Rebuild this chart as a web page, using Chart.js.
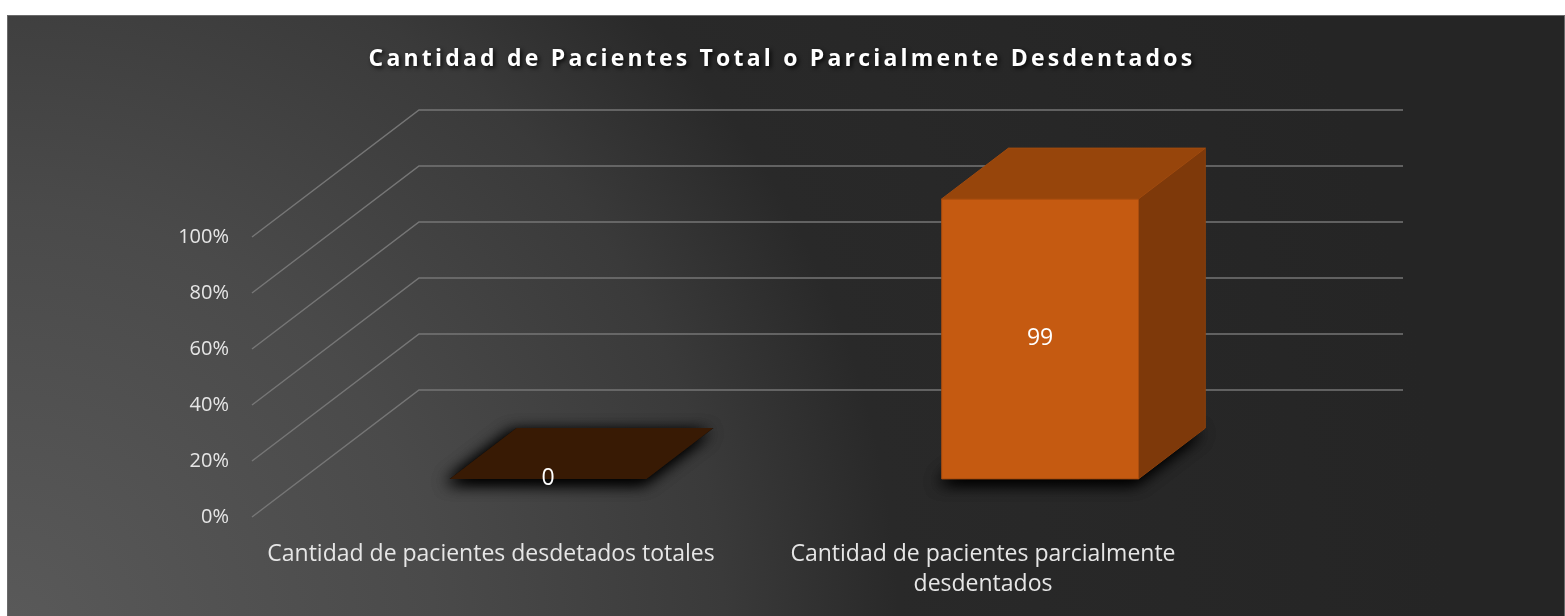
<!DOCTYPE html>
<html>
<head>
<meta charset="utf-8">
<script src="https://cdn.jsdelivr.net/npm/chart.js@4.4.0/dist/chart.umd.min.js"></script>
<style>
  html, body { margin: 0; padding: 0; background: #fff; }
  #wrap { width: 1565px; height: 616px; }
</style>
</head>
<body>
<div id="wrap"><canvas id="chart" width="1565" height="616"></canvas></div>
<script>
// data
const categorias = [
    ['Cantidad de pacientes desdetados totales'],
    ['Cantidad de pacientes parcialmente', 'desdentados']
];
const pacientes = [0, 99];        // value labels
const porcentaje = [0, 100];      // bar height on the 100% axis
const ticksY = [0, 20, 40, 60, 80, 100];
const titulo = 'Cantidad de Pacientes Total o Parcialmente Desdentados';

// 3D look: depth vector of the side wall, bars sit between 30% and 70% of depth
const DX = 167, DY = -127;
const D0 = 0.3, D1 = 0.7;

function poly(ctx, pts) {
    ctx.beginPath();
    ctx.moveTo(pts[0][0], pts[0][1]);
    for (let k = 1; k < pts.length; k++) ctx.lineTo(pts[k][0], pts[k][1]);
    ctx.closePath();
}

const fondo = {
    id: 'fondo',
    beforeDraw(chart) {
        const ctx = chart.ctx;
        ctx.save();
        ctx.fillStyle = '#fff';
        ctx.fillRect(0, 0, chart.width, chart.height);
        const g = ctx.createRadialGradient(0, 640, 0, 0, 640, 1450);
        g.addColorStop(0, '#5a5a5a');
        g.addColorStop(0.3, '#4a4a4a');
        g.addColorStop(0.5, '#3a3a3a');
        g.addColorStop(0.62, '#292929');
        g.addColorStop(1, '#252525');
        ctx.fillStyle = g;
        ctx.fillRect(7, 15, chart.width - 7, chart.height - 15);
        ctx.strokeStyle = '#6a6a6a';
        ctx.lineWidth = 1;
        ctx.strokeRect(7.5, 15.5, chart.width - 8, chart.height);
        ctx.restore();
    }
};

const rejilla = {
    id: 'rejilla',
    beforeDatasetsDraw(chart) {
        const { ctx, chartArea: a, scales: { y } } = chart;
        ctx.save();
        ctx.strokeStyle = '#767676';
        ctx.lineWidth = 1.5;
        y.ticks.forEach(t => {
            const py = y.getPixelForValue(t.value);
            ctx.beginPath();
            ctx.moveTo(a.left, py);
            ctx.lineTo(a.left + DX, py + DY);
            ctx.lineTo(a.right + DX, py + DY);
            ctx.stroke();
        });
        ctx.restore();
    }
};

const barras3d = {
    id: 'barras3d',
    afterDatasetsDraw(chart) {
        const ctx = chart.ctx;
        const meta = chart.getDatasetMeta(0);
        meta.data.forEach((bar, i) => {
            const half = bar.width / 2;
            const fx = DX * D0, fy = DY * D0;
            const ddx = DX * (D1 - D0), ddy = DY * (D1 - D0);
            const l = bar.x - half + fx, r = bar.x + half + fx;
            const t = bar.y + fy, b = bar.base + fy;

            // soft shadow on the floor
            ctx.save();
            ctx.shadowColor = 'rgba(0,0,0,1)';
            ctx.shadowBlur = 16;
            ctx.shadowOffsetX = -4;
            ctx.shadowOffsetY = 4;
            ctx.fillStyle = '#111';
            poly(ctx, [[l, b], [r, b], [r + ddx, b + ddy], [l + ddx, b + ddy]]);
            ctx.fill();
            ctx.fill();
            ctx.restore();

            ctx.save();
            ctx.lineWidth = 1;
            if (b - t > 0.5) {
                ctx.fillStyle = '#7e390a';
                ctx.strokeStyle = '#8a400c';
                poly(ctx, [[r, t], [r + ddx, t + ddy], [r + ddx, b + ddy], [r, b]]);
                ctx.fill(); ctx.stroke();
                ctx.fillStyle = '#c55a11';
                ctx.strokeStyle = '#a94c0e';
                poly(ctx, [[l, t], [r, t], [r, b], [l, b]]);
                ctx.fill(); ctx.stroke();
                ctx.fillStyle = '#97450b';
                ctx.strokeStyle = '#a04a0e';
                poly(ctx, [[l, t], [r, t], [r + ddx, t + ddy], [l + ddx, t + ddy]]);
                ctx.fill(); ctx.stroke();
            } else {
                // a flat bar shows only its dark top
                ctx.fillStyle = '#381a04';
                poly(ctx, [[l, t], [r, t], [r + ddx, t + ddy], [l + ddx, t + ddy]]);
                ctx.fill();
            }
            ctx.fillStyle = '#ffffff';
            ctx.font = '23px "Open Sans"';
            ctx.textAlign = 'center';
            ctx.textBaseline = 'middle';
            ctx.fillText(String(pacientes[i]), (l + r) / 2, (t + b) / 2);
            ctx.restore();
        });
    }
};

const tituloPlugin = {
    id: 'titulo',
    afterDraw(chart) {
        const ctx = chart.ctx;
        ctx.save();
        ctx.font = 'bold 23px "Open Sans"';
        ctx.letterSpacing = '3.2px';
        ctx.textAlign = 'center';
        ctx.textBaseline = 'alphabetic';
        ctx.shadowColor = 'rgba(0,0,0,0.85)';
        ctx.shadowBlur = 4;
        ctx.shadowOffsetX = 2;
        ctx.shadowOffsetY = 2;
        ctx.fillStyle = '#ffffff';
        ctx.fillText(titulo, 782, 66);
        ctx.restore();
    }
};

const chart = new Chart(document.getElementById('chart'), {
    type: 'bar',
    data: {
        labels: categorias,
        datasets: [{
            data: porcentaje,
            backgroundColor: 'rgba(0,0,0,0)',
            borderWidth: 0,
            barPercentage: 0.4,
            categoryPercentage: 1
        }]
    },
    options: {
        responsive: false,
        devicePixelRatio: 1,
        animation: false,
        layout: { padding: { top: 237, right: 329, bottom: 0, left: 0 } },
        plugins: {
            legend: { display: false },
            tooltip: { enabled: false },
            title: { display: false }
        },
        scales: {
            x: {
                grid: { display: false },
                border: { display: false },
                ticks: {
                    color: '#e6e6e6',
                    font: { family: 'Open Sans', size: 23, lineHeight: 1.3 },
                    padding: 15,
                    labelOffset: -7,
                    maxRotation: 0
                },
                afterFit: s => { s.height = 99; }
            },
            y: {
                min: 0,
                max: 100,
                grid: { display: false },
                border: { display: false },
                afterBuildTicks: s => { s.ticks = ticksY.map(v => ({ value: v })); },
                ticks: {
                    color: '#e6e6e6',
                    font: { family: 'Open Sans', size: 20 },
                    padding: 15,
                    callback: v => v + '%'
                },
                afterFit: s => { s.width = 252; }
            }
        }
    },
    plugins: [fondo, rejilla, barras3d, tituloPlugin]
});
</script>
</body>
</html>
